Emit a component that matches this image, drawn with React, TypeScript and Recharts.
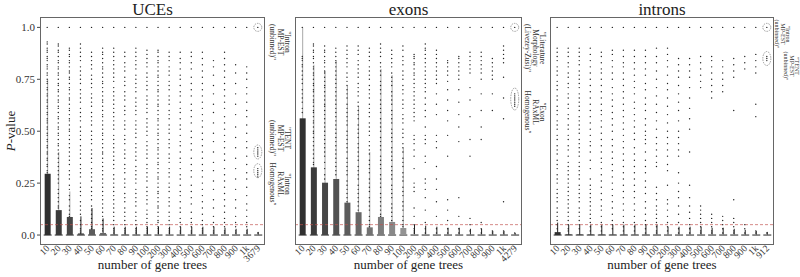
import React from 'react';
import { ComposedChart, Bar, Scatter, XAxis, YAxis, ReferenceLine, ReferenceDot, Cell } from 'recharts';

const SERIF = '"Liberation Serif", "DejaVu Serif", serif';

// category labels (number of gene trees)
const ucesCats = ['10', '20', '30', '40', '50', '60', '70', '80', '90', '100', '200', '300', '400', '500', '600', '700', '800', '900', '1k', '3679'];
const exonsCats = ['10', '20', '30', '40', '50', '60', '70', '80', '90', '100', '200', '300', '400', '500', '600', '700', '800', '900', '1k', '4279'];
const intronsCats = ['10', '20', '30', '40', '50', '60', '70', '80', '90', '100', '200', '300', '400', '500', '600', '700', '800', '900', '1k', '912'];

// bar heights (P-value) and upper whisker ends
const ucesBar = [0.295, 0.12, 0.087, 0.008, 0.028, 0.01, 0.003, 0.003, 0.003, 0.003, 0.003, 0.003, 0.003, 0.003, 0.003, 0.003, 0.003, 0.003, 0.003, 0.002];
const ucesHi = [0.75, 0.4, 0.21, 0.09, 0.13, 0.08, 0.04, 0.04, 0.04, 0.04, 0.04, 0.04, 0.04, 0.04, 0.04, 0.04, 0.035, 0.03, 0.03, 0.015];
const exonsBar = [0.562, 0.326, 0.252, 0.27, 0.156, 0.11, 0.037, 0.087, 0.063, 0.034, 0.004, 0.004, 0.004, 0.003, 0.003, 0.003, 0.003, 0.002, 0.002, 0.002];
const exonsHi = [1.0, 0.82, 0.79, 0.84, 0.72, 0.62, 0.4, 0.8, 0.77, 0.42, 0.05, 0.045, 0.04, 0.035, 0.035, 0.03, 0.03, 0.02, 0.02, 0.01];
const intronsBar = [0.014, 0.003, 0.003, 0.003, 0.003, 0.003, 0.003, 0.003, 0.003, 0.003, 0.003, 0.003, 0.003, 0.003, 0.003, 0.003, 0.003, 0.002, 0.002, 0.002];
const intronsHi = [0.06, 0.05, 0.05, 0.05, 0.05, 0.05, 0.05, 0.05, 0.05, 0.05, 0.04, 0.04, 0.04, 0.04, 0.035, 0.035, 0.03, 0.025, 0.02, 0.015];

// individual P-values per column, in percent
const ucesDots = [
  [100, 93, 92, 90, 89, 88, 86, 85, 84, 82, 81, 80, 78, 77, 75, 74, 73, 71, 70, 68, 67, 65, 64, 62, 61, 59, 58, 56, 55, 54, 52, 51, 49, 48, 46, 45, 43, 42, 40, 39, 37, 36, 34, 33, 31, 30],
  [100, 92, 91, 89, 88, 86, 84, 83, 81, 80, 78, 77, 75, 73, 72, 70, 69, 67, 65, 64, 62, 61, 59, 57, 56, 54, 52, 51, 49, 48, 46, 44, 43, 41, 39, 37, 35, 33, 31, 29, 27, 25, 22, 20, 18, 16, 14, 13],
  [100, 90, 89, 87, 86, 84, 83, 81, 79, 78, 76, 75, 73, 71, 70, 68, 66, 65, 63, 61, 60, 58, 56, 55, 53, 51, 50, 48, 46, 44, 42, 40, 38, 36, 34, 31, 29, 27, 24, 22, 19, 17, 14, 12, 10, 9],
  [100, 92, 90, 88, 86, 84, 81, 79, 77, 75, 73, 70, 68, 66, 64, 61, 59, 57, 55, 52, 50, 48, 46, 43, 41, 39, 37, 34, 32, 30, 28, 25, 23, 21, 19, 16, 14, 12, 10, 7, 5, 3, 2, 1],
  [100, 88, 86, 84, 82, 80, 77, 75, 73, 71, 68, 66, 64, 62, 59, 57, 55, 53, 50, 48, 46, 44, 41, 39, 37, 35, 32, 30, 28, 26, 23, 21, 19, 17, 14, 12, 10, 8, 6, 4, 3],
  [100, 90, 88, 87, 85, 83, 81, 80, 78, 76, 74, 73, 71, 69, 67, 65, 64, 62, 60, 58, 57, 55, 53, 51, 49, 48, 46, 44, 42, 40, 39, 37, 35, 33, 31, 29, 27, 25, 23, 21, 19, 17, 15, 13, 11, 9, 7, 5, 3, 2],
  [100, 90, 88, 86, 84, 82, 80, 78, 76, 74, 71, 69, 67, 65, 63, 61, 59, 57, 55, 53, 51, 48, 46, 44, 42, 40, 38, 36, 34, 32, 29, 27, 25, 23, 21, 19, 17, 15, 13, 11, 9, 7, 5, 3, 2, 1],
  [100, 88, 86, 83, 81, 79, 76, 74, 72, 69, 67, 65, 62, 60, 58, 55, 53, 51, 48, 46, 44, 41, 39, 37, 34, 32, 30, 27, 25, 23, 20, 18, 16, 13, 11, 9, 7, 5, 3, 2, 1],
  [100, 90, 88, 86, 84, 82, 80, 77, 75, 73, 71, 69, 66, 64, 62, 60, 58, 55, 53, 51, 49, 47, 44, 42, 40, 38, 36, 33, 31, 29, 27, 25, 22, 20, 18, 16, 14, 11, 9, 7, 5, 3, 2, 1],
  [100, 89, 87, 85, 83, 81, 78, 76, 74, 72, 70, 67, 65, 63, 61, 59, 56, 54, 52, 50, 48, 45, 43, 41, 39, 37, 34, 32, 30, 28, 26, 23, 21, 19, 17, 15, 12, 10, 8, 6, 4, 3, 2, 1],
  [100, 89, 88, 86, 84, 83, 81, 79, 77, 76, 74, 72, 70, 69, 67, 65, 63, 62, 60, 58, 56, 55, 53, 51, 49, 48, 46, 44, 42, 41, 39, 37, 35, 34, 32, 30, 28, 27, 25, 23, 21, 20, 18, 16, 14, 13, 11, 9, 7, 6, 4, 3, 2, 1],
  [100, 88, 86, 84, 81, 79, 77, 74, 72, 70, 67, 65, 63, 60, 58, 56, 53, 51, 49, 46, 44, 42, 39, 37, 35, 32, 30, 28, 25, 23, 21, 18, 16, 14, 11, 9, 7, 5, 3, 2, 1],
  [100, 88, 85, 83, 80, 77, 75, 72, 69, 67, 64, 61, 59, 56, 53, 51, 48, 45, 43, 40, 37, 35, 32, 29, 27, 24, 21, 19, 16, 13, 11, 8, 6, 4, 2, 1],
  [100, 88, 86, 83, 80, 76, 73, 70, 67, 63, 60, 57, 54, 50, 47, 44, 41, 37, 34, 31, 28, 24, 21, 18, 15, 11, 8, 6, 4, 2, 1],
  [100, 88, 85, 82, 79, 76, 73, 70, 67, 64, 61, 58, 55, 52, 49, 46, 43, 40, 37, 34, 31, 28, 25, 22, 19, 16, 13, 10, 7, 5, 3, 2, 1],
  [100, 84, 81, 77, 72, 68, 63, 59, 54, 49, 45, 40, 35, 31, 26, 22, 17, 13, 9, 6, 4, 2, 1],
  [100, 88, 85, 82, 79, 76, 73, 70, 67, 64, 61, 57, 54, 51, 48, 45, 42, 39, 36, 32, 29, 26, 23, 20, 17, 14, 11, 8, 6, 4, 2, 1],
  [100, 82, 78, 73, 68, 63, 58, 52, 47, 42, 37, 32, 27, 22, 17, 13, 9, 6, 4, 2, 1],
  [100, 81, 78, 75, 71, 68, 64, 60, 57, 53, 49, 45, 42, 38, 34, 30, 27, 23, 19, 15, 12, 9, 6, 4, 2, 1],
  [100, 42, 41, 40, 39, 38, 32, 31, 30, 29, 28, 1],
];
const exonsDots = [
  [100, 86, 85, 84, 82, 81, 79, 77, 75, 73, 70, 68, 66, 64, 61, 59],
  [100, 92, 91, 89, 88, 86, 85, 83, 81, 80, 78, 77, 75, 73, 72, 70, 69, 67, 65, 64, 62, 60, 59, 57, 55, 54, 52, 50, 49, 47, 45, 43, 41, 39, 37, 35, 34],
  [100, 91, 89, 88, 86, 84, 83, 81, 79, 78, 76, 74, 72, 71, 69, 67, 65, 63, 62, 60, 58, 56, 54, 52, 50, 48, 46, 44, 42, 40, 38, 35, 32, 29, 27],
  [100, 90, 88, 86, 84, 83, 81, 79, 77, 75, 73, 71, 69, 67, 65, 63, 61, 59, 57, 55, 53, 51, 49, 47, 45, 43, 41, 39, 37, 35, 33, 31, 29],
  [100, 91, 89, 87, 85, 83, 81, 78, 76, 74, 72, 70, 68, 66, 63, 61, 59, 57, 55, 53, 50, 48, 46, 44, 42, 40, 37, 35, 33, 31, 29, 26, 24, 22, 20, 18, 16],
  [100, 91, 89, 87, 84, 82, 80, 78, 76, 73, 71, 69, 67, 64, 62, 60, 58, 56, 53, 51, 49, 47, 44, 42, 40, 38, 36, 33, 31, 29, 27, 24, 22, 20, 18, 16, 14, 12],
  [100, 90, 88, 86, 84, 81, 79, 77, 75, 72, 70, 68, 66, 63, 61, 59, 57, 54, 52, 50, 48, 45, 43, 41, 39, 36, 34, 32, 30, 27, 25, 23, 21, 18, 16, 14, 12, 9, 7, 5, 4],
  [100, 92, 90, 88, 86, 83, 81, 79, 77, 74, 72, 70, 68, 65, 63, 61, 59, 56, 54, 52, 50, 47, 45, 43, 41, 38, 36, 34, 32, 29, 27, 25, 23, 20, 18, 16, 14, 12, 10, 9],
  [100, 89, 87, 85, 83, 81, 78, 76, 74, 72, 69, 67, 65, 63, 60, 58, 56, 54, 51, 49, 47, 45, 42, 40, 38, 36, 33, 31, 29, 27, 24, 22, 20, 18, 15, 13, 11, 9, 7],
  [100, 91, 89, 86, 84, 82, 79, 77, 75, 72, 70, 68, 65, 63, 61, 58, 56, 54, 51, 49, 47, 44, 42, 40, 37, 35, 33, 30, 28, 26, 23, 21, 19, 16, 14, 12, 9, 7, 5, 4],
  [100, 87, 86, 85, 83, 82, 80, 78, 77, 75, 73, 71, 69, 67, 65, 63, 61, 59, 57, 55, 48, 46, 44, 41, 38, 32, 25, 23, 21, 13, 9, 5, 3, 2, 1],
  [100, 92, 90, 89, 87, 85, 83, 81, 79, 77, 75, 73, 71, 69, 66, 63, 60, 57, 52, 48, 46, 44, 38, 35, 27, 25, 22, 18, 12, 6, 3, 1],
  [100, 89, 87, 85, 83, 81, 79, 77, 75, 73, 68, 63, 58, 48, 45, 42, 33, 27, 22, 16, 9, 3, 1],
  [100, 84, 83, 81, 79, 77, 74, 70, 65, 60, 55, 48, 38, 17, 12, 7, 3, 1],
  [100, 86, 85, 83, 81, 79, 77, 75, 70, 64, 58, 52, 45, 18, 9, 3, 1],
  [100, 88, 86, 84, 82, 80, 78, 71, 65, 57, 46, 38, 8, 5, 2],
  [100, 88, 86, 84, 82, 80, 78, 75, 68, 60, 52, 46, 6, 3, 1],
  [100, 85, 83, 81, 79, 77, 75, 68, 60, 2, 1],
  [100, 91, 89, 87, 85, 83, 76, 66, 56, 16, 2, 1],
  [100, 68, 67, 66, 65, 64, 63, 62, 1],
];
const intronsDots = [
  [100, 90, 88, 86, 84, 81, 79, 77, 74, 72, 70, 67, 65, 62, 60, 58, 55, 53, 51, 48, 46, 43, 41, 39, 36, 34, 32, 29, 27, 25, 22, 20, 18, 16, 13, 11, 9, 7, 5, 3],
  [100, 90, 88, 86, 83, 81, 78, 76, 73, 71, 68, 66, 63, 61, 58, 56, 53, 51, 48, 46, 43, 41, 38, 35, 33, 31, 29, 27, 25, 23, 21, 19, 17, 15, 13, 11, 9, 7, 5, 3, 2],
  [100, 90, 88, 86, 84, 82, 79, 77, 75, 73, 71, 68, 66, 64, 62, 60, 57, 55, 53, 51, 49, 46, 44, 42, 40, 38, 35, 33, 31, 29, 27, 24, 22, 20, 18, 16, 13, 11, 9, 7, 5, 3],
  [100, 90, 87, 84, 81, 78, 75, 72, 69, 66, 63, 60, 57, 54, 51, 48, 45, 43, 40, 36, 32, 27, 24, 22, 20, 18, 16, 14, 12, 10, 8, 6, 4, 2],
  [100, 88, 86, 83, 80, 78, 75, 72, 69, 66, 63, 60, 58, 55, 52, 49, 46, 43, 40, 37, 35, 32, 29, 26, 23, 20, 17, 14, 12, 9, 6, 4, 2],
  [100, 89, 87, 84, 81, 78, 75, 71, 68, 65, 62, 59, 56, 53, 50, 46, 43, 40, 37, 34, 31, 28, 25, 22, 19, 16, 13, 10, 7, 5, 3],
  [100, 89, 86, 83, 81, 78, 75, 72, 69, 66, 63, 60, 57, 54, 51, 48, 45, 42, 39, 36, 33, 30, 27, 24, 21, 18, 15, 12, 9, 6, 4, 2],
  [100, 89, 86, 83, 80, 77, 74, 71, 68, 64, 61, 58, 55, 52, 49, 46, 42, 39, 36, 33, 30, 27, 24, 21, 18, 15, 12, 9, 6, 4, 2],
  [100, 89, 86, 83, 80, 77, 73, 70, 66, 63, 60, 56, 53, 50, 48, 46, 44, 40, 36, 33, 30, 26, 23, 20, 16, 13, 10, 7, 5, 3, 1],
  [100, 90, 86, 83, 79, 75, 71, 67, 63, 59, 55, 51, 47, 44, 41, 38, 35, 33, 23, 20, 17, 14, 12, 10, 8, 6, 4, 2, 1],
  [100, 90, 87, 84, 81, 77, 73, 70, 66, 62, 58, 54, 50, 47, 44, 41, 38, 34, 31, 24, 17, 15, 12, 9, 6, 4, 2],
  [100, 85, 82, 79, 76, 72, 68, 64, 60, 55, 50, 47, 44, 41, 38, 30, 25, 21, 18, 14, 10, 6, 3, 1],
  [100, 85, 82, 79, 76, 71, 66, 61, 56, 51, 40, 24, 18, 14, 11, 8, 5, 3, 1],
  [100, 86, 83, 80, 77, 74, 71, 14, 12, 10, 8, 6, 4, 2, 1],
  [100, 86, 84, 81, 78, 75, 72, 69, 66, 10, 8, 6, 4, 2, 1],
  [100, 84, 81, 78, 75, 72, 69, 9, 7, 5, 3, 1],
  [100, 85, 82, 79, 76, 60, 17, 8, 6, 4, 2, 1],
  [100, 86, 83, 80, 5, 3, 1],
  [100, 87, 84, 81, 78, 63, 57, 2, 1],
  [100, 86, 85, 84, 1],
];

// circled values of the full data set (last column)
const ucesRings = [1, 0.4, 0.31];
const exonsRings = [1, 0.655];
const intronsRings = [1, 0.85];

const yTicks = [0, 0.25, 0.5, 0.75, 1];
const yLabels = ['0.0', '0.25', '0.50', '0.75', '1.0'];

const XDOM: [number, number] = [-0.65, 19.65];
const YDOM: [number, number] = [-0.048, 1.05];

const shade = (i: number) => {
  const v = Math.min(0x30 + i * 11, 0xa0);
  return `rgb(${v},${v},${v})`;
};

const XTick = ({ x, y, payload, cats }: any) => (
  <text
    x={x + 3}
    y={y + 2}
    transform={`rotate(-45, ${x + 3}, ${y + 2})`}
    textAnchor="end"
    fontSize={9.5}
    fontFamily={SERIF}
    fill="#333"
  >
    {cats[payload.value]}
  </text>
);

const Dot = (p: any) => <circle cx={p.cx} cy={p.cy} r={0.7} fill="#222" />;

const Whisker = (p: any) => {
  const { x, y, width, height, payload } = p;
  if (x == null || y == null) return null;
  const cx = x + width / 2;
  const stem = payload.hi > 0.15 ? '#a8a8a8' : '#222';
  return (
    <g>
      <line x1={cx} x2={cx} y1={y} y2={y + height} stroke={stem} strokeWidth={1} />
      <line x1={x} x2={x + width} y1={y + height} y2={y + height} stroke="#222" strokeWidth={1} />
    </g>
  );
};

type PanelProps = {
  cats: string[];
  bar: number[];
  hi: number[];
  dots: number[][];
  rings: number[];
  ringRy: number;
  left: number;
  width: number;
  ml: number;
  mr: number;
  showY?: boolean;
};

const Panel = ({ cats, bar, hi, dots, rings, ringRy, left, width, ml, mr, showY }: PanelProps) => {
  const rows = cats.map((c, i) => ({ i, p: bar[i], hi: hi[i] }));
  const pts = dots.flatMap((col, i) => col.map((v) => ({ i, p: v / 100 })));
  const ticks = cats.map((_, i) => i);
  return (
    <div style={{ position: 'absolute', left, top: 0 }}>
      <ComposedChart width={width} height={277} data={rows} margin={{ top: 17, right: mr, bottom: 12, left: ml }}>
        <XAxis
          xAxisId="m"
          type="number"
          dataKey="i"
          domain={XDOM}
          ticks={ticks}
          interval={0}
          allowDataOverflow
          axisLine={false}
          tickLine={false}
          tickSize={0}
          height={20}
          tick={(props: any) => <XTick {...props} cats={cats} />}
        />
        <XAxis xAxisId="w" type="number" dataKey="i" domain={XDOM} ticks={ticks} allowDataOverflow hide />
        <YAxis
          type="number"
          dataKey="p"
          domain={YDOM}
          ticks={yTicks}
          allowDataOverflow
          hide={!showY}
          width={28}
          axisLine={false}
          tickSize={3}
          tickLine={{ stroke: '#444' }}
          tick={{ fontSize: 11, fontFamily: SERIF, fill: '#333' }}
          tickFormatter={(v: number) => yLabels[yTicks.indexOf(v)]}
        />
        <Scatter xAxisId="m" data={pts} dataKey="p" shape={Dot} isAnimationActive={false} />
        <Bar xAxisId="w" dataKey={(d: any) => [0, d.hi]} barSize={8} shape={Whisker} isAnimationActive={false} />
        <Bar xAxisId="m" dataKey="p" barSize={6} isAnimationActive={false}>
          {rows.map((r) => (
            <Cell key={r.i} fill={shade(r.i)} />
          ))}
        </Bar>
        <ReferenceLine xAxisId="m" y={0.05} stroke="#c0504d" strokeOpacity={0.85} strokeDasharray="3 2" strokeWidth={0.8} />
        {rings.map((v) => (
          <ReferenceDot
            key={v}
            xAxisId="m"
            x={cats.length - 1}
            y={v}
            shape={(p: any) => (
              <ellipse
                cx={p.cx}
                cy={p.cy}
                rx={4}
                ry={v === 1 ? 4 : ringRy}
                fill="none"
                stroke="#777"
                strokeWidth={0.7}
                strokeDasharray="1.5 1"
              />
            )}
          />
        ))}
      </ComposedChart>
    </div>
  );
};

const VNote = ({ x, cy, lines, size = 7.5, gap = 7.5 }: { x: number; cy: number; lines: string[]; size?: number; gap?: number }) => (
  <text transform={`translate(${x},${cy}) rotate(90)`} textAnchor="middle" fontSize={size} fontFamily={SERIF} fill="#333">
    {lines.map((l, k) => (
      <tspan key={k} x={0} y={k * gap}>
        {l}
      </tspan>
    ))}
  </text>
);

const App = () => (
  <div style={{ position: 'absolute', left: 0, top: 0, width: 800, height: 277, background: '#fff', overflow: 'hidden' }}>
    <Panel cats={ucesCats} bar={ucesBar} hi={ucesHi} dots={ucesDots} rings={ucesRings} ringRy={7} left={0} width={280} ml={12} mr={15} showY />
    <Panel cats={exonsCats} bar={exonsBar} hi={exonsHi} dots={exonsDots} rings={exonsRings} ringRy={11} left={280} width={260} ml={15} mr={18} />
    <Panel cats={intronsCats} bar={intronsBar} hi={intronsHi} dots={intronsDots} rings={intronsRings} ringRy={7} left={540} width={260} ml={10} mr={26} />
    <svg width={800} height={277} style={{ position: 'absolute', left: 0, top: 0, pointerEvents: 'none' }}>
      <g fill="none" stroke="#666" strokeWidth={1}>
        <rect x={40.5} y={17.5} width={224} height={227} />
        <rect x={295.5} y={17.5} width={226} height={227} />
        <rect x={550.5} y={17.5} width={223} height={227} />
      </g>
      <g fontFamily={SERIF} fill="#222" textAnchor="middle">
        <text x={152.5} y={15} fontSize={17}>UCEs</text>
        <text x={408.5} y={15} fontSize={17}>exons</text>
        <text x={662} y={15} fontSize={17}>introns</text>
        <text x={152.5} y={269} fontSize={13}>number of gene trees</text>
        <text x={408.5} y={269} fontSize={13}>number of gene trees</text>
        <text x={662} y={269} fontSize={13}>number of gene trees</text>
        <text transform="translate(15,131) rotate(-90)" fontSize={13}>
          <tspan fontStyle="italic">P</tspan>-value
        </text>
      </g>
      <VNote x={285} cy={42} lines={['"Intron', 'MP-EST', '(unbinned)"']} />
      <VNote x={285} cy={138} lines={['"TENT', 'MP-EST', '(unbinned)"']} />
      <VNote x={285} cy={184} lines={['"Intron', 'RAxML', 'Homogenous"']} />
      <VNote x={540} cy={48} lines={['"Literature', 'Morphology', '(Livezey-Zusi)"']} />
      <VNote x={540} cy={112} lines={['"Exon', 'RAxML', 'Homogenous"']} />
      <VNote x={786} cy={34} lines={['"Intron', 'MP-EST', '(unbinned)"']} size={6} gap={5.5} />
      <VNote x={795} cy={66} lines={['"TENT', 'MP-EST', '(unbinned)"']} size={6} gap={5.5} />
    </svg>
  </div>
);

export default App;
